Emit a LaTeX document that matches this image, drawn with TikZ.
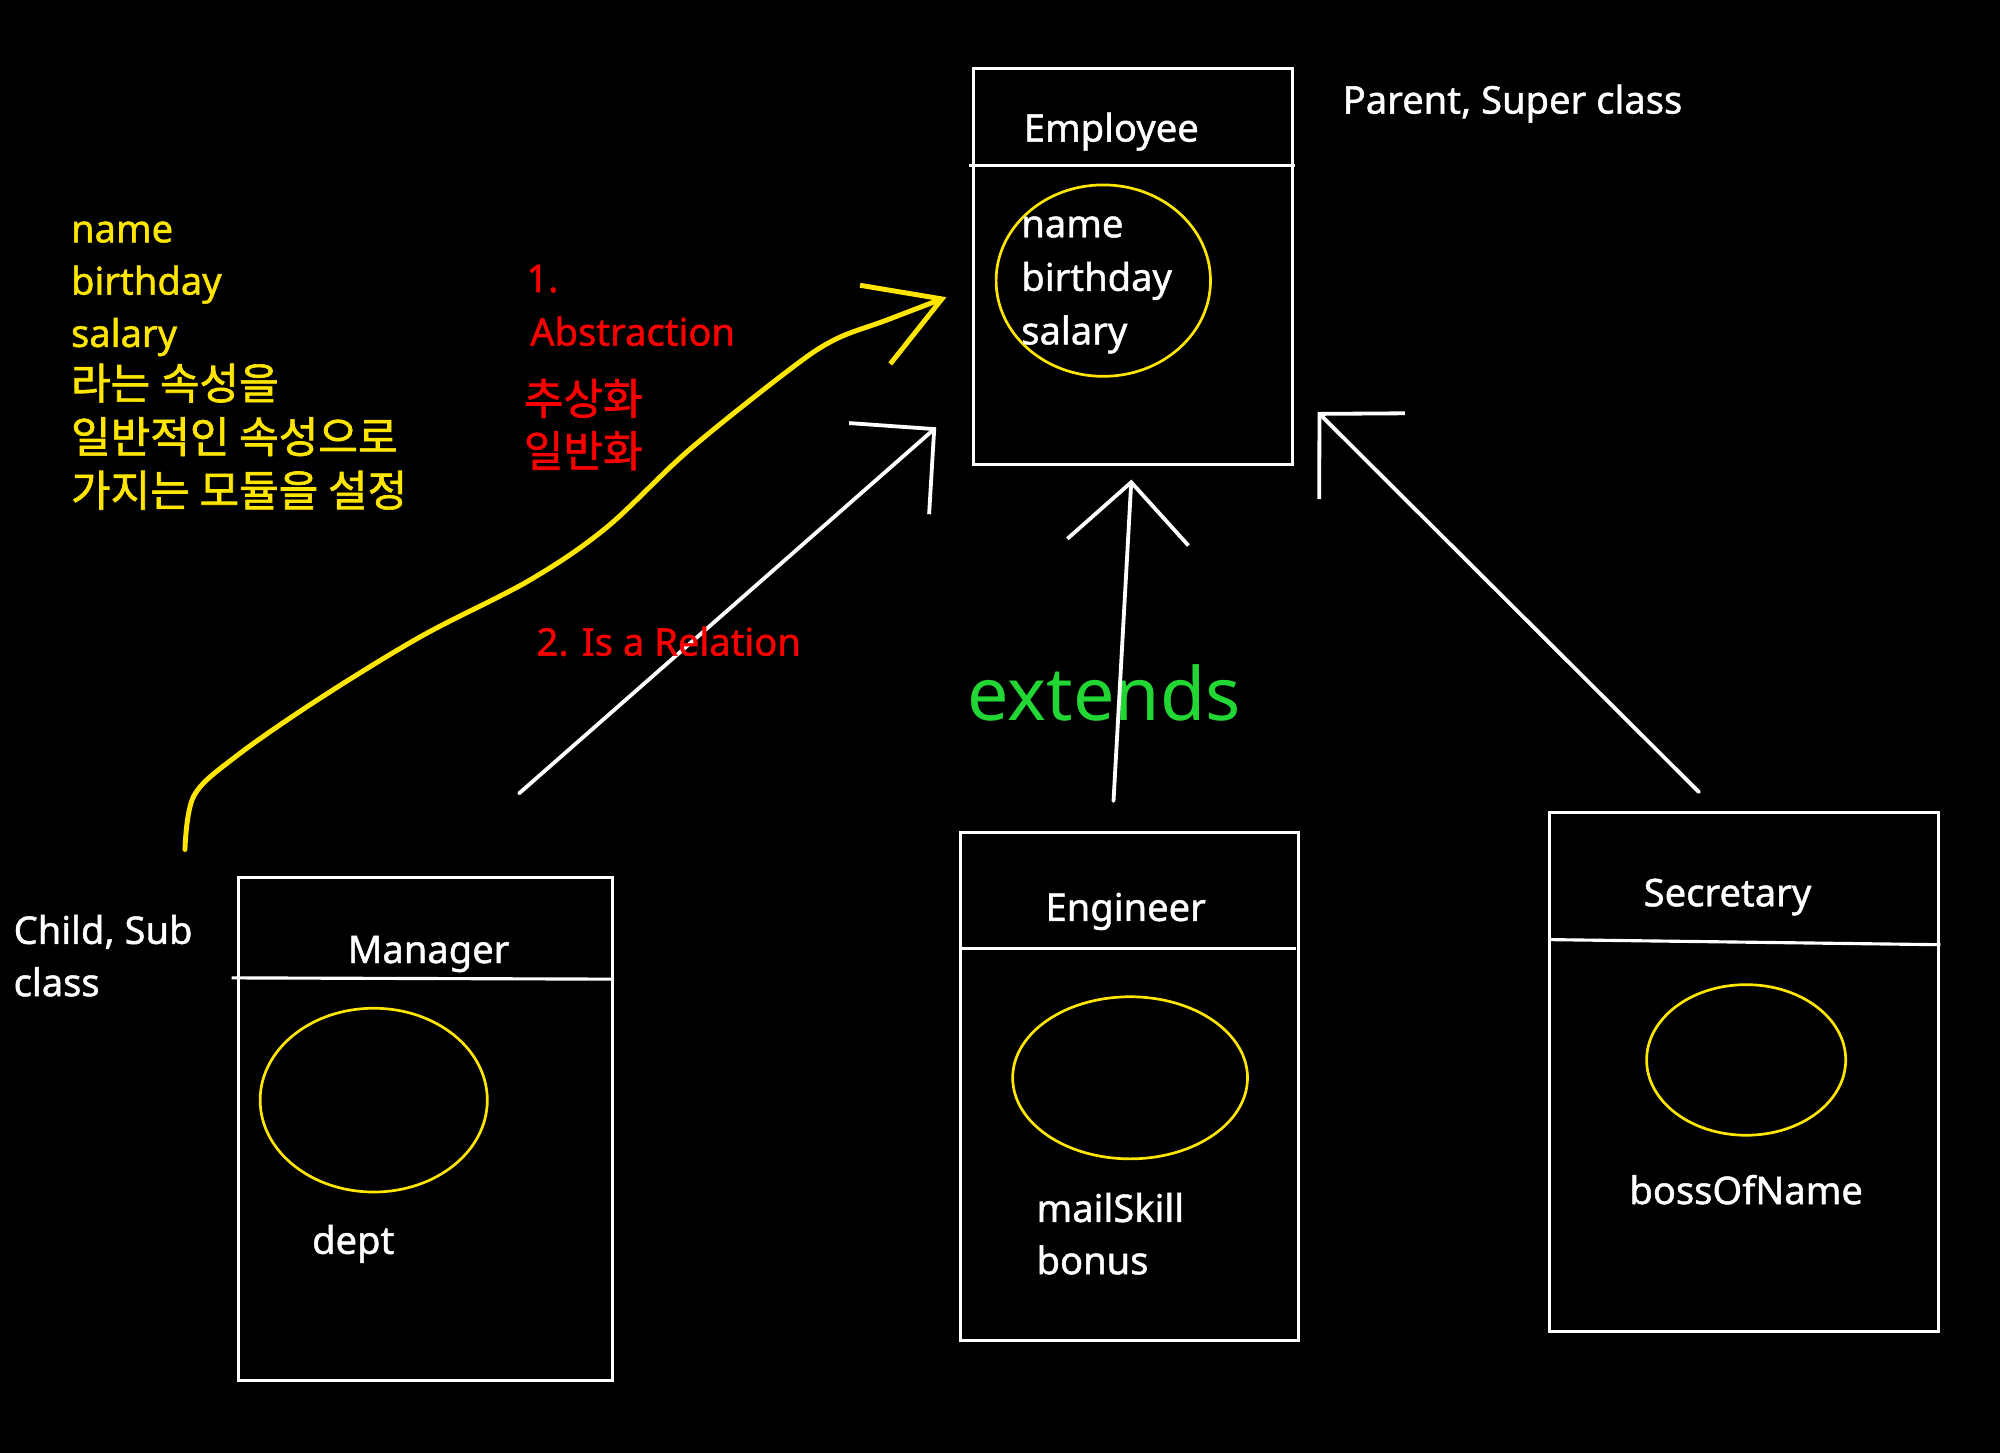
\documentclass[tikz,border=0pt]{standalone}
\usepackage{fontspec}
\setmainfont{Noto Sans}
\newfontfamily\labelfont{Noto Sans}[FakeBold=1.2]
\newfontfamily\krfont{Noto Sans CJK KR}[FakeBold=1.5]
\usetikzlibrary{shapes.geometric,arrows.meta,calc}
\definecolor{hlyellow}{RGB}{255,230,0}
\definecolor{notered}{RGB}{250,0,0}
\definecolor{extgreen}{RGB}{34,214,52}
\tikzset{
  classbox/.style={draw=white, line width=0.7pt, rectangle, inner sep=0pt},
  divider/.style={draw=white, line width=0.7pt},
  oval/.style={draw=hlyellow, line width=0.6pt, ellipse, inner sep=0pt},
  wtext/.style={text=white, inner sep=0pt, anchor=base west, font=\labelfont\fontsize{8.5}{10}\selectfont},
  ytext/.style={wtext, text=hlyellow},
  rtext/.style={wtext, text=notered},
  krtext/.style={font=\krfont\fontsize{9.6}{11}\selectfont},
  isa/.style={draw=white, line width=0.85pt, line cap=round,
    -{Straight Barb[length=0.47cm, width=0.95cm]}},
  absarrow/.style={draw=hlyellow, line width=1.1pt, line cap=round,
    -{Straight Barb[length=0.56cm, width=0.66cm]}}
}
\begin{document}
\begin{tikzpicture}[x=0.01cm, y=-0.01cm]
  \fill[black] (0,0) rectangle (1568,1139);
  \useasboundingbox (0,0) rectangle (1568,1139);

  % class boxes
  \node[classbox, minimum width=2.5cm, minimum height=3.1cm] (emp) at (888,209) {};
  \node[classbox, minimum width=2.93cm, minimum height=3.94cm] (mgr) at (333.5,885) {};
  \node[classbox, minimum width=2.65cm, minimum height=3.98cm] (eng) at (885.5,852) {};
  \node[classbox, minimum width=3.05cm, minimum height=4.07cm] (sec) at (1367.5,840.5) {};

  \draw[divider] ($(emp.north west)+(-2,77)$) -- ($(emp.north east)+(1,77)$);
  \draw[divider] ($(mgr.north west)+(-4,80)$) -- ($(mgr.north east)+(0,81)$);
  \draw[divider] ($(eng.north west)+(0,92)$) -- ($(eng.north east)+(-3,92)$);
  \draw[divider] ($(sec.north west)+(1,101)$) -- ($(sec.north east)+(0,105)$);

  % fields
  \node[oval, minimum width=1.68cm, minimum height=1.5cm] (empOval) at (865,220) {};
  \node[oval, minimum width=1.78cm, minimum height=1.44cm] (mgrOval) at (293,862.5) {};
  \node[oval, minimum width=1.84cm, minimum height=1.27cm] (engOval) at (886,845) {};
  \node[oval, minimum width=1.56cm, minimum height=1.18cm] (secOval) at (1369,831) {};

  \node[wtext] (empTitle) at (802,111) {Employee};
  \node[wtext] (mgrTitle) at (272,755) {Manager};
  \node[wtext] (engTitle) at (819,722) {Engineer};
  \node[wtext] (secTitle) at (1288,710.5) {Secretary};

  \node[wtext] (empName) at (800,186) {name};
  \node[wtext] (empBirth) at (800,228) {birthday};
  \node[wtext] (empSalary) at (800,270) {salary};
  \node[wtext] (mgrDept) at (244,983) {dept};
  \node[wtext] (engMail) at (812,958) {mailSkill};
  \node[wtext] (engBonus) at (812,999) {bonus};
  \node[wtext, anchor=base] (secBoss) at (1369,944) {bossOfName};

  \node[wtext] (parentLbl) at (1052,89) {Parent, Super class};
  \node[wtext] (childLbl) at (10,740) {Child, Sub};
  \node[wtext] (childLbl2) at (10,781) {class};

  % general attributes
  \node[ytext] (yName) at (55,190) {name};
  \node[ytext] (yBirth) at (55,231) {birthday};
  \node[ytext] (ySalary) at (55,272) {salary};
  \node[ytext, krtext] (yKr1) at (55,313) {라는 속성을};
  \node[ytext, krtext] (yKr2) at (55,355) {일반적인 속성으로};
  \node[ytext, krtext] (yKr3) at (55,397) {가지는 모듈을 설정};

  \node[wtext, text=extgreen, font=\fontsize{16.4}{18}\selectfont] (extLbl) at (758,565) {extends};

  % is-a arrows
  \coordinate (mgrTail) at (407,622);
  \coordinate (mgrHead) at (734,335);
  \coordinate (engTail) at (873,628);
  \coordinate (engHead) at (887,376);
  \coordinate (secTail) at (1332,621);
  \coordinate (secHead) at (1033,323);
  \begin{scope}[isa]
    \draw (mgrTail) to (mgrHead);
    \draw (engTail) to (engHead);
    \draw (secTail) to (secHead);
  \end{scope}

  \node[rtext] (absNum) at (412,229) {1.};
  \node[rtext] (absLbl) at (415,271) {Abstraction};
  \node[rtext, krtext] (absKr1) at (410,325) {추상화};
  \node[rtext, krtext] (absKr2) at (410,366) {일반화};
  \node[rtext] (isaLbl) at (420,514) {2. Is a Relation};

  % abstraction stroke
  \coordinate (absTail) at (145,666);
  \coordinate (absHead) at (742,233);
  \draw[absarrow] plot[smooth, tension=0.55] coordinates {(absTail) (152,624) (185,593)
    (250,548) (330,499) (415,455) (475,414) (540,353) (620,289) (655,266) (695,251) (absHead)};
\end{tikzpicture}
\end{document}
